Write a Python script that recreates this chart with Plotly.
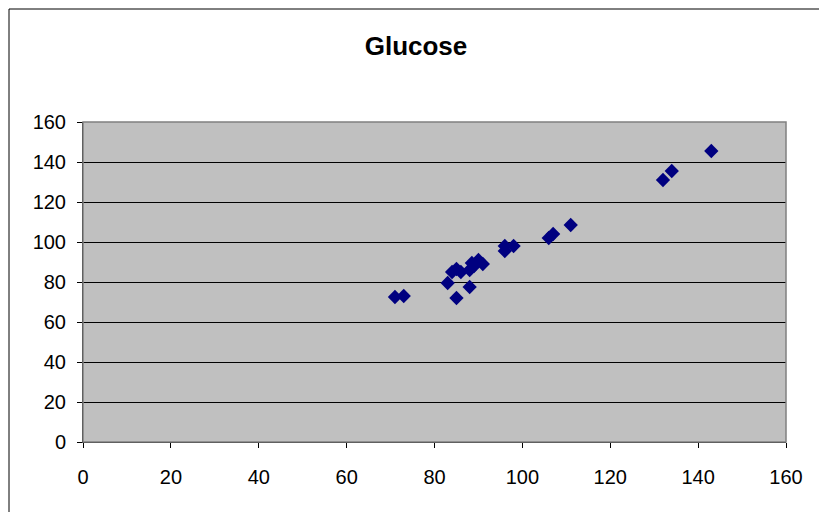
import plotly.graph_objects as go

x_vals = [71, 73, 83, 85, 88, 84, 85, 86, 88, 88.5, 90, 91, 89, 96, 96, 98, 106, 107, 111, 132, 134, 143]
y_vals = [72.5, 73, 79.5, 72, 77.5, 85, 86.5, 85, 86, 89.5, 91, 89, 88, 98, 95.5, 98, 102, 104, 108.5, 131, 135.5, 145.5]
tick_vals = [0, 20, 40, 60, 80, 100, 120, 140, 160]
title_text = "Glucose"

# page body has an 8px margin, so the figure is sized/placed accordingly
W, H = 819, 504
L, T = 75, 114
R, B = W - 778, H - 434
pw, ph = W - L - R, H - T - B

fig = go.Figure(go.Scatter(
    x=x_vals, y=y_vals, mode="markers",
    marker=dict(symbol="diamond", size=11, color="#000080", line=dict(width=0)),
))

tick_font = dict(family="Arial, Liberation Sans", size=20, color="#000000")
axis_common = dict(
    range=[0, 160], tickvals=tick_vals, zeroline=False,
    ticks="outside", ticklen=5, tickcolor="#000000",
    tickfont=tick_font,
    showline=True, linecolor="#000000", linewidth=1,
)

fig.update_layout(
    width=W, height=H,
    margin=dict(l=L, r=R, t=T, b=B, pad=0),
    paper_bgcolor="white", plot_bgcolor="#C0C0C0",
    showlegend=False,
    title=dict(text="<b>" + title_text + "</b>", x=408 / W, xanchor="center",
               y=1 - 38 / H, yanchor="middle",
               font=dict(family="Arial, Liberation Sans", size=26, color="#000000")),
    xaxis=dict(**axis_common, showgrid=False, ticklabelstandoff=12),
    yaxis=dict(**axis_common, showgrid=True, gridcolor="#000000", gridwidth=1, ticklabelstandoff=7),
)

# plot area gray border (top/right)
fig.add_shape(type="rect", xref="paper", yref="paper", x0=0, x1=1, y0=0, y1=1,
              line=dict(color="#808080", width=1.5), fillcolor="rgba(0,0,0,0)", layer="above")
# outer chart border
fig.add_shape(type="rect", xref="paper", yref="paper",
              x0=(1 - L) / pw, x1=(814 - L) / pw, y0=-0.5, y1=(H - B - 1) / ph,
              line=dict(color="#000000", width=1), fillcolor="rgba(0,0,0,0)")

fig.write_html("out.html")
